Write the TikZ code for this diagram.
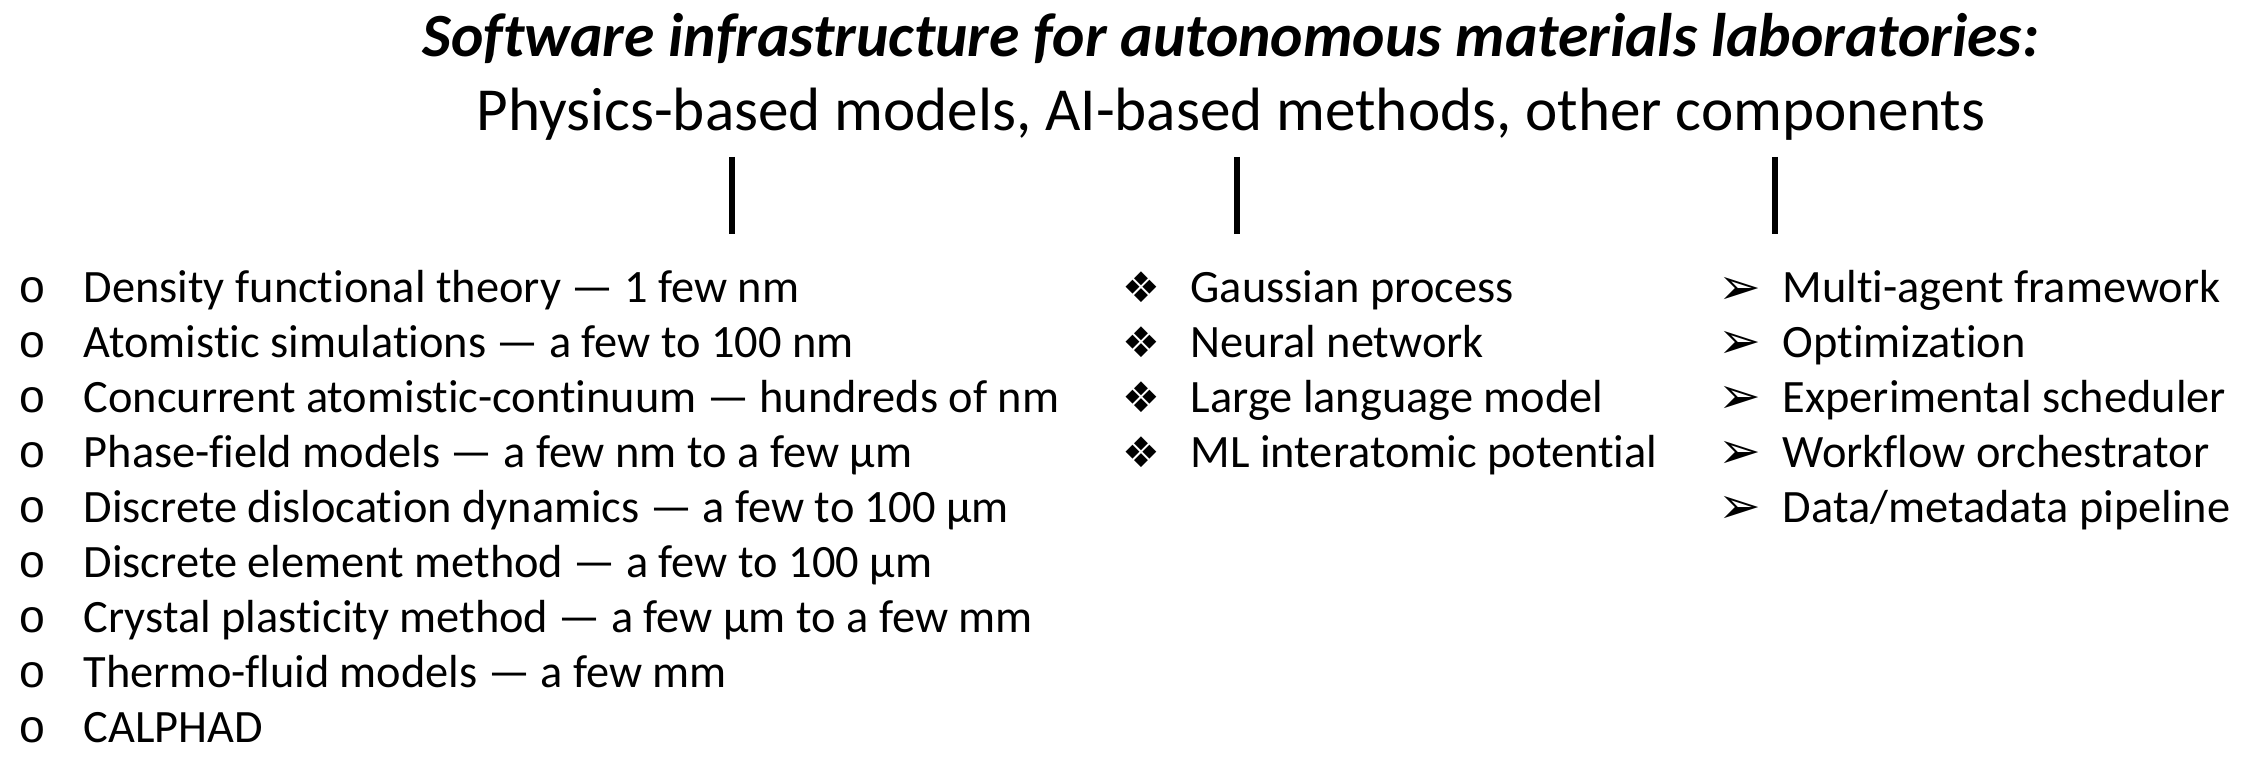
\documentclass[tikz,border=0pt]{standalone}
\usepackage{fontspec}
\setmainfont{Carlito}[Ligatures=NoCommon]
\newfontfamily\symfont{DejaVu Sans}
\newfontfamily\circfont{Liberation Mono}
\usepackage{tikz}
\usetikzlibrary{positioning}

\newcommand{\physbul}{\makebox[0.65cm][l]{\circfont o}}
\newcommand{\aibul}{\makebox[0.68cm][l]{\fontsize{12}{14}\symfont ❖}}
\newcommand{\othbul}{\makebox[0.64cm][l]{\raisebox{-0.3pt}{\fontsize{14.5}{16}\symfont ➢}}}

\begin{document}
\begin{tikzpicture}[
  node distance=0.549cm,
  headline/.style={inner sep=0pt, anchor=base, font=\fontsize{17.4}{20}\selectfont},
  listitem/.style={inner sep=0pt, anchor=base west, font=\fontsize{13.2}{16}\selectfont},
  stem/.style={line width=1.7pt},
]
  \useasboundingbox (0,0) rectangle (22.48,7.6);

  % Heading
  \node[headline, font=\fontsize{17.5}{20}\selectfont\bfseries\itshape] (title) at (12.31,7.03)
    {Software infrastructure for autonomous materials laboratories:};
  \node[headline] (subtitle) at (12.31,6.29)
    {Physics-based models, AI-based methods, other components};

  % Stems
  \coordinate (physTop) at (7.32,6.03);
  \coordinate (physBot) at (7.32,5.26);
  \coordinate (aiTop) at (12.37,6.03);
  \coordinate (aiBot) at (12.37,5.26);
  \coordinate (othTop) at (17.75,6.03);
  \coordinate (othBot) at (17.75,5.26);
  \draw[stem] (physTop) -- (physBot);
  \draw[stem] (aiTop) -- (aiBot);
  \draw[stem] (othTop) -- (othBot);

  % Physics-based models
  \node[listitem] (dft) at (0.18,4.57) {\physbul Density functional theory — 1 few nm};
  \node[below=of dft.base west, listitem] (atom) {\physbul Atomistic simulations — a few to 100 nm};
  \node[below=of atom.base west, listitem] (conc) {\physbul Concurrent atomistic-continuum — hundreds of nm};
  \node[below=of conc.base west, listitem] (phase) {\physbul Phase-field models — a few nm to a few µm};
  \node[below=of phase.base west, listitem] (ddd) {\physbul Discrete dislocation dynamics — a few to 100 µm};
  \node[below=of ddd.base west, listitem] (dem) {\physbul Discrete element method — a few to 100 µm};
  \node[below=of dem.base west, listitem] (cpm) {\physbul Crystal plasticity method — a few µm to a few mm};
  \node[below=of cpm.base west, listitem] (thermo) {\physbul Thermo-fluid models — a few mm};
  \node[below=of thermo.base west, listitem] (calphad) {\physbul CALPHAD};

  % AI-based methods
  \node[listitem] (gp) at (11.22,4.57) {\aibul Gaussian process};
  \node[below=of gp.base west, listitem] (nn) {\aibul Neural network};
  \node[below=of nn.base west, listitem] (llm) {\aibul Large language model};
  \node[below=of llm.base west, listitem] (mlip) {\aibul ML interatomic potential};

  % Other components
  \node[listitem] (agent) at (17.18,4.57) {\othbul Multi-agent framework};
  \node[below=of agent.base west, listitem] (optim) {\othbul Optimization};
  \node[below=of optim.base west, listitem] (sched) {\othbul Experimental scheduler};
  \node[below=of sched.base west, listitem] (orch) {\othbul Workflow orchestrator};
  \node[below=of orch.base west, listitem] (pipe) {\othbul Data/metadata pipeline};
\end{tikzpicture}
\end{document}
